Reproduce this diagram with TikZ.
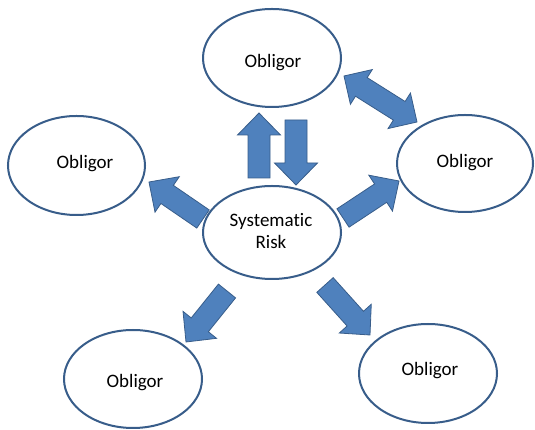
\documentclass[tikz,border=0pt]{standalone}
\usepackage{fontspec}
\setmainfont{Carlito}[Ligatures=NoCommon]
\usetikzlibrary{calc,shapes.geometric}
\definecolor{afill}{HTML}{4F81BD}
\definecolor{aline}{HTML}{385D8A}
\def\shw{11pt}
\def\hhw{21.5pt}
\def\hdl{22pt}
\newcommand{\blockarr}[2]{%
  \path[blockarrow]
    ($(#1)!\shw!90:(#2)$) --
    ($(#2)!\hdl!(#1)!\shw!90:(#2)$) --
    ($(#2)!\hdl!(#1)!\hhw!90:(#2)$) --
    (#2) --
    ($(#2)!\hdl!(#1)!\hhw!-90:(#2)$) --
    ($(#2)!\hdl!(#1)!\shw!-90:(#2)$) --
    ($(#1)!\shw!-90:(#2)$) -- cycle;}
\newcommand{\dblockarr}[2]{%
  \path[blockarrow]
    (#1) --
    ($(#1)!20.5pt!(#2)!20.5pt!90:(#2)$) --
    ($(#1)!20.5pt!(#2)!\shw!90:(#2)$) --
    ($(#2)!21pt!(#1)!\shw!90:(#2)$) --
    ($(#2)!21pt!(#1)!21pt!90:(#2)$) --
    (#2) --
    ($(#2)!21pt!(#1)!21pt!-90:(#2)$) --
    ($(#2)!21pt!(#1)!\shw!-90:(#2)$) --
    ($(#1)!20.5pt!(#2)!\shw!-90:(#2)$) --
    ($(#1)!20.5pt!(#2)!20.5pt!-90:(#2)$) -- cycle;}
\tikzset{
  obl/.style={ellipse, draw=aline, line width=2pt, fill=white, inner sep=0pt},
  lbl/.style={anchor=base, inner sep=0pt, font=\fontsize{19}{23}\selectfont},
  blockarrow/.style={fill=afill, draw=aline, line width=0.8pt, line join=miter},
}
\begin{document}
\begin{tikzpicture}[x=1pt,y=1pt]
\useasboundingbox (0,0) rectangle (535,430);
% ellipses
\node[obl, minimum width=138pt, minimum height=98pt] (top) at (272,372) {};
\node[obl, minimum width=136pt, minimum height=97pt] (right) at (465,266.5) {};
\node[obl, minimum width=137pt, minimum height=99pt] (left) at (76.5,264.5) {};
\node[obl, minimum width=138pt, minimum height=93pt] (ctr) at (272,197.5) {};
\node[obl, minimum width=138pt, minimum height=98pt] (bl) at (133,51) {};
\node[obl, minimum width=138pt, minimum height=99pt] (br) at (428,56.5) {};
% labels
\node[lbl] (ttop) at (273,362) {Obligor};
\node[lbl] (tright) at (465,262) {Obligor};
\node[lbl] (tleft) at (85,261) {Obligor};
\node[lbl] (tc1) at (271,203) {Systematic};
\node[lbl] (tc2) at (271,181) {Risk};
\node[lbl] (tbl) at (135,42) {Obligor};
\node[lbl] (tbr) at (430,54) {Obligor};
% arrow end points
\coordinate (upT) at (259,252);
\coordinate (upH) at (259,317);
\coordinate (dnT) at (296,310);
\coordinate (dnH) at (296,245);
\coordinate (dA) at (344,354);
\coordinate (dB) at (417,308);
\coordinate (lfT) at (203,211);
\coordinate (lfH) at (149,248);
\coordinate (rtT) at (343,212);
\coordinate (rtH) at (399,249);
\coordinate (blT) at (227,139);
\coordinate (blH) at (186,88);
\coordinate (brT) at (325,145);
\coordinate (brH) at (370,95);
% arrows
\blockarr{upT}{upH}
\blockarr{dnT}{dnH}
\dblockarr{dA}{dB}
\blockarr{lfT}{lfH}
\blockarr{rtT}{rtH}
\blockarr{blT}{blH}
\blockarr{brT}{brH}
\end{tikzpicture}
\end{document}
